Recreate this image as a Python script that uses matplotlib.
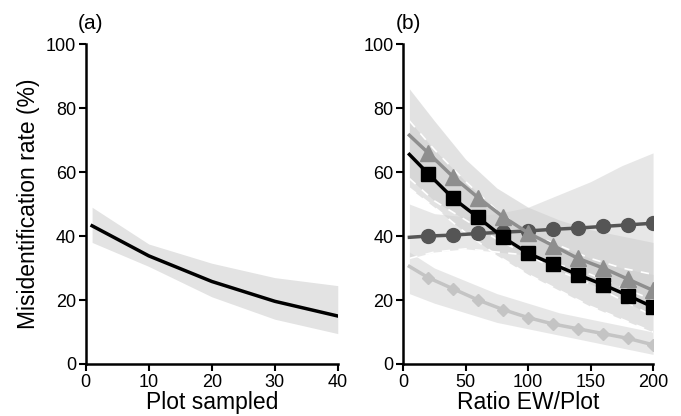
import matplotlib
matplotlib.use("Agg")
import matplotlib.pyplot as plt
import numpy as np

plt.rcParams["font.family"] = ["Liberation Sans", "DejaVu Sans"]
matplotlib.rc('xtick', labelsize=13)
matplotlib.rc('ytick', labelsize=13)

# panel (a)
plots_x = [1, 10, 20, 30, 40]
plots_mean = [43.2, 33.8, 25.8, 19.6, 15.0]
plots_lo = [38.0, 30.5, 21.0, 14.0, 9.5]
plots_hi = [49.0, 37.5, 31.5, 27.0, 24.5]

# panel (b)
ratio_x = [5, 20, 40, 60, 80, 100, 120, 140, 160, 180, 200]
tri_mean = [71.5, 66.0, 58.5, 52.0, 46.0, 41.0, 37.0, 33.0, 30.0, 26.5, 23.0]
sq_mean = [65.5, 59.5, 51.8, 45.8, 39.6, 34.6, 31.2, 27.9, 24.8, 21.4, 17.8]
circ_mean = [39.6, 40.0, 40.3, 40.8, 41.2, 41.6, 42.1, 42.5, 43.0, 43.5, 44.0]
dia_mean = [30.5, 27.0, 23.5, 20.0, 17.0, 14.5, 12.5, 11.0, 9.5, 8.0, 6.0]

band_x = [5, 25, 50, 75, 100, 125, 150, 175, 200]
tri_hi = [86, 76, 64, 55, 49, 45, 42, 40, 38]
tri_lo = [58, 51, 45, 39, 34, 29, 25, 20, 15]
sq_hi = [76, 67, 57, 48, 41, 37, 33, 30, 28]
sq_lo = [55, 49, 41, 34, 28, 23, 18, 14, 10]
circ_hi = [50, 47, 46, 47, 49, 53, 57, 62, 66]
circ_lo = [33, 35, 36, 35, 34, 31, 28, 24, 20]
dia_hi = [35, 30, 26, 22, 19, 16, 14, 12, 10]
dia_lo = [22, 19, 16, 13, 11, 9, 7, 5, 3]

fig = plt.figure(figsize=(6.81, 4.16), dpi=100)
ax1 = fig.add_axes([0.126, 0.125, 0.370, 0.769])
ax2 = fig.add_axes([0.592, 0.125, 0.367, 0.769])

ax1.fill_between(plots_x, plots_lo, plots_hi, color="#e3e3e3", lw=0)
ax1.plot(plots_x, plots_mean, color="k", lw=2.5)
ax1.set_xlim(0, 40)
ax1.set_xticks([0, 10, 20, 30, 40])
ax1.set_xlabel("Plot sampled", fontsize=16.5, labelpad=0)
ax1.set_ylabel("Misidentification rate (%)", fontsize=16.5, labelpad=4)

band_col = "#d0d0d0"
ax2.fill_between(band_x, circ_lo, circ_hi, color=band_col, alpha=0.5, lw=0)
ax2.fill_between(band_x, dia_lo, dia_hi, color=band_col, alpha=0.5, lw=0)
ax2.fill_between(band_x, tri_lo, tri_hi, color=band_col, alpha=0.6, lw=0)
ax2.fill_between(band_x, sq_lo, sq_hi, color=band_col, alpha=0.6, lw=0)
for edge in [tri_lo, sq_hi, sq_lo, circ_lo]:
    ax2.plot(band_x, edge, color="white", lw=1.2, ls=(0, (5, 5)))

ax2.plot(ratio_x, dia_mean, color="#c4c4c4", lw=2.5, marker="D", ms=6,
         markevery=range(1, len(ratio_x)))
ax2.plot(ratio_x, circ_mean, color="#555555", lw=2.5, marker="o", ms=10,
         markevery=range(1, len(ratio_x)))
ax2.plot(ratio_x, tri_mean, color="#8e8e8e", lw=2.5, marker="^", ms=11,
         markevery=range(1, len(ratio_x)))
ax2.plot(ratio_x, sq_mean, color="black", lw=2.5, marker="s", ms=10,
         markevery=range(1, len(ratio_x)))
ax2.set_xlim(0, 200)
ax2.set_xticks([0, 50, 100, 150, 200])
ax2.set_xlabel("Ratio EW/Plot", fontsize=16.5, labelpad=0)

for ax, lab in [(ax1, "(a)"), (ax2, "(b)")]:
    ax.set_ylim(0, 100)
    ax.set_yticks([0, 20, 40, 60, 80, 100])
    for s in ["top", "right"]:
        ax.spines[s].set_visible(False)
    for s in ["left", "bottom"]:
        ax.spines[s].set_linewidth(1.8)
    ax.tick_params(width=1.5, length=5, pad=2)
    ax.text(-0.03, 1.035, lab, transform=ax.transAxes, fontsize=15, va="bottom")

fig.savefig("out.png", dpi=100)
